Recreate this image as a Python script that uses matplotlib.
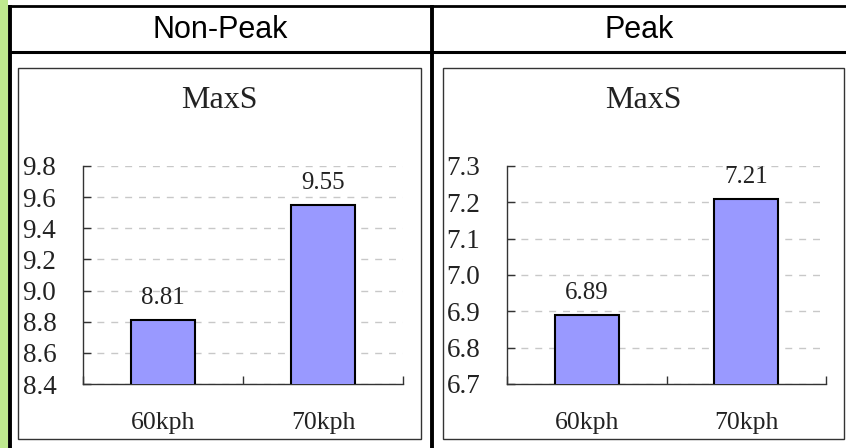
import matplotlib
matplotlib.use("Agg")
import matplotlib.pyplot as plt
from matplotlib.lines import Line2D
from matplotlib.patches import Rectangle

# data
panels = ["Non-Peak", "Peak"]
categories = ["60kph", "70kph"]
nonpeak_vals = [8.81, 9.55]
peak_vals = [6.89, 7.21]
nonpeak_ticks = [8.4, 8.6, 8.8, 9.0, 9.2, 9.4, 9.6, 9.8]
peak_ticks = [6.7, 6.8, 6.9, 7.0, 7.1, 7.2, 7.3]
chart_title = "MaxS"

W, H = 846, 448
SERIF = "Liberation Serif"
SANS = "Liberation Sans"


def fx(x):
    return x / W


def fy(y):
    return 1 - y / H


fig = plt.figure(figsize=(W / 100, H / 100), dpi=100)


def fig_line(xs, ys, lw, color="black"):
    fig.add_artist(Line2D([fx(v) for v in xs], [fy(v) for v in ys],
                          transform=fig.transFigure, color=color,
                          lw=lw, solid_capstyle="butt"))


def draw_panel(box, axrect, values, yticks):
    bx0, by0, bx1, by1 = box
    fig.add_artist(Rectangle((fx(bx0), fy(by1)), (bx1 - bx0) / W, (by1 - by0) / H,
                             transform=fig.transFigure, facecolor="white",
                             edgecolor="#333333", lw=1.0, zorder=0))
    fig.text(fx((bx0 + bx1) / 2), fy(100), chart_title, ha="center", va="center",
             fontsize=23, family=SERIF, color="#222222")

    x0, y0, x1, y1 = axrect
    ax = fig.add_axes([fx(x0), fy(y1), (x1 - x0) / W, (y1 - y0) / H])
    ax.patch.set_alpha(0)
    pos = list(range(len(categories)))
    ax.bar(pos, values, width=0.4, color="#9999ff", edgecolor="black",
           linewidth=1.5, zorder=3)
    for i, v in zip(pos, values):
        ax.annotate(f"{v:.2f}", (i, v), xytext=(0, 8), textcoords="offset points",
                    ha="center", va="bottom", fontsize=18, family=SERIF,
                    color="#222222")

    ax.set_xlim(-0.5, len(categories) - 0.5)
    ax.set_ylim(yticks[0], yticks[-1])
    ax.set_yticks(yticks)
    ax.set_yticklabels([f"{t:.1f}" for t in yticks], family=SERIF, fontsize=19.5,
                       color="#222222")
    for lab in ax.get_yticklabels():
        lab.set_ha("left")
    ax.tick_params(axis="y", direction="in", length=5.5, width=1, pad=43.5,
                   colors="#333333", labelcolor="#222222")

    ax.set_xticks(pos)
    ax.set_xticklabels(categories, family=SERIF, fontsize=18.5, color="#222222")
    ax.set_xticks([p - 0.5 for p in pos] + [pos[-1] + 0.5], minor=True)
    ax.tick_params(axis="x", which="major", length=0, pad=20)
    ax.tick_params(axis="x", which="minor", direction="in", length=5.5, width=1,
                   colors="#333333")

    ax.yaxis.grid(True, linestyle=(0, (5, 5)), color="#c8c8c8", lw=1)
    ax.set_axisbelow(True)
    for s in ["top", "right"]:
        ax.spines[s].set_visible(False)
    for s in ["left", "bottom"]:
        ax.spines[s].set_color("#333333")
        ax.spines[s].set_linewidth(1)
    return ax


# green strip on the left
fig.add_artist(Rectangle((0, 0), fx(8), 1, transform=fig.transFigure,
                         facecolor="#bfe98f", edgecolor="none", zorder=0))

draw_panel((18, 68, 421, 439), (83, 166, 403, 384), nonpeak_vals, nonpeak_ticks)
draw_panel((443, 68, 844, 439), (507, 166, 826, 384), peak_vals, peak_ticks)

# table borders
fig_line([10, W], [6, 6], 2.0)
fig_line([10, W], [52, 52], 2.2)
fig_line([10, 10], [5, H], 2.8)
fig_line([432, 432], [5, H], 2.8)

fig.text(fx(220), fy(30), panels[0], ha="center", va="center", fontsize=22,
         family=SANS)
fig.text(fx(639), fy(30), panels[1], ha="center", va="center", fontsize=22,
         family=SANS)

fig.savefig("out.png", dpi=100, facecolor="white")
